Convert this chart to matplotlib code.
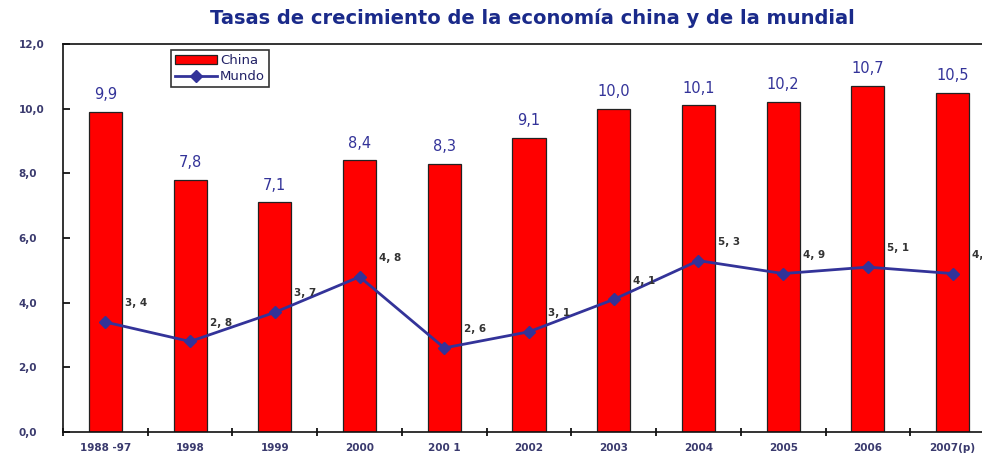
import matplotlib
matplotlib.use("Agg")
import matplotlib.pyplot as plt
import numpy as np

categories = ["1988 -97", "1998", "1999", "2000", "200 1", "2002", "2003", "2004", "2005", "2006", "2007(p)"]
china = [9.9, 7.8, 7.1, 8.4, 8.3, 9.1, 10.0, 10.1, 10.2, 10.7, 10.5]
mundo = [3.4, 2.8, 3.7, 4.8, 2.6, 3.1, 4.1, 5.3, 4.9, 5.1, 4.9]
yticks = [0, 2, 4, 6, 8, 10, 12]

navy = "#333399"
label_col = "#3a3a6e"

fig = plt.figure(figsize=(9.82, 4.61), dpi=100)
ax = fig.add_axes([63/982, 1-432/461, 932/982, (432-44)/461])

x = np.arange(len(categories))
bars = ax.bar(x, china, width=0.39, color="#FF0000", edgecolor="#222222", linewidth=0.9, label="China", zorder=2)
line, = ax.plot(x, mundo, color=navy, linewidth=2, marker="D", markersize=6, label="Mundo", zorder=3)

for xi, v in zip(x, china):
    ax.annotate(f"{v:.1f}".replace(".", ","), (xi, v), xytext=(0, 7), textcoords="offset points",
                ha="center", va="bottom", fontsize=10.5, color=navy)
for xi, v in zip(x, mundo):
    ax.annotate(f"{v:.1f}".replace(".", ", "), (xi, v), xytext=(22, 10), textcoords="offset points",
                ha="center", va="bottom", fontsize=7.5, color="#333333", fontweight="bold")

ax.set_xlim(-0.5, len(categories) - 0.5)
ax.set_ylim(0, 12)
ax.set_yticks(yticks)
ax.set_yticklabels([f"{t:.1f}".replace(".", ",") for t in yticks], fontsize=7.5, color=label_col, fontweight="bold")
ax.set_xticks(x)
ax.set_xticklabels(categories, fontsize=7.5, color=label_col, fontweight="bold")
ax.set_xticks(np.arange(len(categories) + 1) - 0.5, minor=True)
ax.tick_params(axis="x", which="major", length=0, pad=8)
ax.tick_params(axis="x", which="minor", length=6, direction="inout", width=1.2)
ax.tick_params(axis="y", direction="in", length=5, width=1.2, pad=32)
for lab in ax.get_yticklabels():
    lab.set_horizontalalignment("left")
for s in ["top", "left", "bottom"]:
    ax.spines[s].set_linewidth(1.2)
    ax.spines[s].set_color("#111111")
ax.spines["right"].set_visible(False)

leg = ax.legend([bars, line], ["China", "Mundo"], loc="upper left",
                bbox_to_anchor=((171-63)/932, (432-50)/388), frameon=True, fancybox=False,
                edgecolor="black", fontsize=9.5, handlelength=3.2, borderpad=0.3, labelspacing=0.25,
                handletextpad=0.2, borderaxespad=0)
for t in leg.get_texts():
    t.set_color("#222266")
leg.get_frame().set_linewidth(1.2)

fig.text(532/982, 1-18/461, "Tasas de crecimiento de la economía china y de la mundial", ha="center", va="center",
         fontsize=14, fontweight="bold", color="#1a2a8a")

fig.savefig("out.png", dpi=100)
